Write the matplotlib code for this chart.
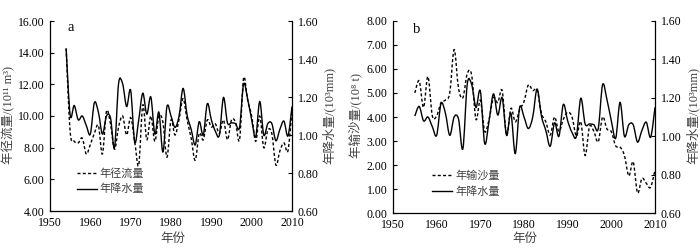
import numpy as np
import matplotlib
matplotlib.use("Agg")
import matplotlib.pyplot as plt
from matplotlib.path import Path
from matplotlib.patches import PathPatch
from matplotlib.lines import Line2D

plt.rcParams['font.family'] = ['Liberation Serif', 'Noto Sans CJK SC', 'DejaVu Sans']

# ---------------- data ----------------
years = list(range(1954, 2011))
runoff = [14.27, 9.0, 8.4, 8.3, 8.6, 7.6, 8.2, 8.9, 9.4, 7.6,
          10.3, 9.5, 7.9, 9.3, 10.0, 8.8, 9.9, 8.4, 6.9, 10.7,
          8.5, 10.0, 8.4, 10.0, 9.6, 7.4, 9.75, 8.8, 9.8, 11.1,
          9.75, 8.6, 7.2, 8.9, 8.5, 9.75, 9.3, 9.5, 8.9, 9.75,
          8.5, 9.75, 9.6, 8.5, 12.4, 11.0, 10.0, 8.4, 10.0, 8.0,
          9.1, 8.9, 6.9, 7.8, 8.3, 7.8, 10.4]
precip = [1.455, 1.105, 1.155, 1.08, 1.10, 1.05, 1.005, 1.17, 1.12, 1.005,
          1.10, 1.09, 0.935, 1.27, 1.27, 1.15, 1.235, 0.962, 1.08, 1.22,
          1.11, 1.20, 1.005, 1.12, 0.91, 1.15, 1.10, 1.04, 1.10, 1.245,
          1.104, 1.03, 0.948, 1.07, 1.0, 1.165, 1.08, 1.02, 1.0, 1.197,
          1.064, 1.064, 1.06, 1.04, 1.268, 1.19, 1.08, 0.99, 1.176, 1.0,
          1.06, 1.06, 0.97, 1.03, 1.073, 0.995, 1.15]
years_b = list(range(1955, 2011))
sediment = [5.0, 5.5, 4.4, 5.68, 4.05, 4.05, 4.6, 4.7, 5.0, 6.8,
            5.2, 4.8, 5.8, 5.75, 3.9, 4.7, 3.4, 3.9, 4.8, 4.6,
            5.1, 3.25, 4.36, 3.8, 4.3, 4.64, 5.33, 5.1, 5.12, 4.15,
            3.8, 3.25, 4.0, 3.4, 3.9, 4.2, 4.0, 3.2, 3.8, 2.4,
            3.6, 3.4, 2.97, 4.0, 3.5, 3.39, 2.8, 2.75, 2.4, 1.55,
            2.14, 0.85, 1.45, 1.25, 1.08, 1.8]
precip_b = precip[1:]

xticks = [1950, 1960, 1970, 1980, 1990, 2000, 2010]
yticks_a = [4, 6, 8, 10, 12, 14, 16]
yticks_b = [0, 1, 2, 3, 4, 5, 6, 7, 8]
yticks_r = [0.6, 0.8, 1.0, 1.2, 1.4, 1.6]

DASH = (0, (2.2, 1.6))
LW = 1.0
TXT = '#404040'


def smooth_path(x, y):
    pts = np.column_stack([np.asarray(x, float), np.asarray(y, float)])
    n = len(pts)
    verts = [pts[0]]
    codes = [Path.MOVETO]
    for i in range(n - 1):
        p0 = pts[i - 1] if i > 0 else pts[i]
        p1 = pts[i]
        p2 = pts[i + 1]
        p3 = pts[i + 2] if i + 2 < n else pts[i + 1]
        c1 = p1 + (p2 - p0) / 6.0
        c2 = p2 - (p3 - p1) / 6.0
        verts += [c1, c2, p2]
        codes += [Path.CURVE4] * 3
    return Path(np.array(verts), codes)


def style(ax, axr, ylim, yticks):
    ax.set_xlim(1950, 2010)
    ax.set_ylim(*ylim)
    ax.set_yticks(yticks)
    ax.set_yticklabels(['%.2f' % v for v in yticks])
    ax.set_xticks(xticks)
    ax.set_xticklabels([str(v) for v in xticks])
    axr.set_ylim(0.6, 1.6)
    axr.set_yticks(yticks_r)
    axr.set_yticklabels(['%.2f' % v for v in yticks_r])
    for a in (ax, axr):
        a.spines['top'].set_visible(False)
        for s in ('left', 'right', 'bottom'):
            a.spines[s].set_linewidth(0.9)
    ax.spines['right'].set_visible(False)
    axr.spines['left'].set_visible(False)
    axr.spines['bottom'].set_visible(False)
    ax.tick_params(axis='y', direction='in', length=3, width=0.8, labelsize=8.5, pad=4)
    ax.tick_params(axis='x', direction='in', length=0, labelsize=8.5, pad=4)
    axr.tick_params(axis='y', direction='in', length=3, width=0.8, labelsize=8.5, pad=4)


fig = plt.figure(figsize=(7, 2.5), dpi=100)

# ---------------- panel a ----------------
ax1 = fig.add_axes([50 / 700, 39 / 250, 242 / 700, 190 / 250])
ax1r = ax1.twinx()
style(ax1, ax1r, (4, 16), yticks_a)
ax1.add_patch(PathPatch(smooth_path(years, runoff), fill=False, edgecolor='black',
                        lw=LW, linestyle=DASH))
ax1r.add_patch(PathPatch(smooth_path(years, precip), fill=False, edgecolor='black', lw=LW))
ax1.text(0.074, 0.965, 'a', transform=ax1.transAxes, fontsize=10.5, va='center', ha='left')
h = [Line2D([], [], color='black', lw=LW, linestyle=DASH),
     Line2D([], [], color='black', lw=LW)]
leg = ax1.legend(h, ['年径流量', '年降水量'], loc='upper left',
                 bbox_to_anchor=(0.112, 0.225), frameon=False, fontsize=8,
                 handlelength=1.75, handletextpad=0.3, borderpad=0, borderaxespad=0,
                 labelspacing=0.45)
for t in leg.get_texts():
    t.set_color(TXT)

# ---------------- panel b ----------------
ax2 = fig.add_axes([393 / 700, 36.7 / 250, 262 / 700, 192.6 / 250])
ax2r = ax2.twinx()
style(ax2, ax2r, (0, 8), yticks_b)
ax2.add_patch(PathPatch(smooth_path(years_b, sediment), fill=False, edgecolor='black',
                        lw=LW, linestyle=DASH))
ax2r.add_patch(PathPatch(smooth_path(years_b, precip_b), fill=False, edgecolor='black', lw=LW))
ax2.text(0.076, 0.955, 'b', transform=ax2.transAxes, fontsize=10.5, va='center', ha='left')
leg2 = ax2.legend(h, ['年输沙量', '年降水量'], loc='upper left',
                  bbox_to_anchor=(0.15, 0.222), frameon=False, fontsize=8,
                  handlelength=1.8, handletextpad=0.3, borderpad=0, borderaxespad=0,
                  labelspacing=0.45)
for t in leg2.get_texts():
    t.set_color(TXT)

# ---------------- axis titles ----------------
fig.text(9 / 700, 0.54, '年径流量/(10¹¹ m³)', rotation=90, ha='center', va='center',
         fontsize=9, color=TXT)
fig.text(329 / 700, 0.54, '年降水量/(10³mm)', rotation=90, ha='center', va='center',
         fontsize=9, color=TXT)
fig.text(173 / 700, 1 - 239 / 250, '年份', ha='center', va='center', fontsize=9, color=TXT)
fig.text(355 / 700, 0.54, '年输沙量/(10⁸ t)', rotation=90, ha='center', va='center',
         fontsize=9, color=TXT)
fig.text(693 / 700, 0.54, '年降水量/(10³mm)', rotation=90, ha='center', va='center',
         fontsize=9, color=TXT)
fig.text(525 / 700, 1 - 239 / 250, '年份', ha='center', va='center', fontsize=9, color=TXT)

fig.savefig('out.png', dpi=100)
